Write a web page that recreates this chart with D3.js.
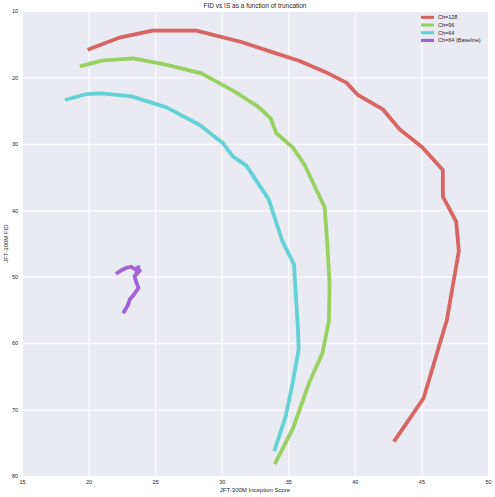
<!DOCTYPE html>
<html><head><meta charset="utf-8">
<script src="https://cdn.jsdelivr.net/npm/d3@7"></script>
<style>html,body{margin:0;padding:0;background:#fff;}svg{display:block;}</style>
</head><body>
<svg id="chart" width="495" height="497"></svg>
<script>
const seriesNames = ["Ch=128", "Ch=96", "Ch=64", "Ch=64 (Baseline)"];
const seriesColors = ["#D65F5A", "#93D05A", "#5DD0D3", "#9E5CD6"];
const ch128IS  = [19.93, 22.40, 24.80, 28.10, 31.48, 33.85, 35.86, 37.73, 39.36, 40.23, 42.10, 43.36, 45.06, 46.61, 46.61, 47.61, 47.81, 46.91, 45.16, 42.93];
const ch128FID = [15.83, 13.96, 12.96, 12.96, 14.67, 16.22, 17.53, 19.13, 20.79, 22.64, 24.80, 27.81, 30.52, 33.94, 37.95, 41.72, 46.13, 56.52, 68.30, 74.83];
const ch96IS   = [19.35, 20.98, 23.35, 25.73, 28.48, 30.98, 32.73, 33.68, 34.10, 35.35, 36.23, 37.73, 37.93, 38.10, 38.05, 37.56, 36.60, 35.35, 33.98];
const ch96FID  = [18.33, 17.48, 17.12, 18.03, 19.38, 22.14, 24.40, 26.16, 28.40, 30.57, 33.18, 39.55, 45.00, 51.00, 56.70, 61.53, 65.80, 72.83, 78.20];
const ch64IS   = [18.23, 19.85, 20.98, 23.23, 25.85, 28.35, 30.10, 30.85, 31.85, 33.53, 34.55, 35.43, 35.73, 35.78, 35.35, 34.80, 33.95];
const ch64FID  = [23.40, 22.50, 22.40, 22.85, 24.50, 27.16, 29.92, 31.93, 33.28, 38.35, 44.62, 48.13, 58.00, 60.93, 65.80, 71.07, 76.24];
const baseIS   = [22.05, 22.40, 22.85, 23.20, 23.50, 23.75, 23.60, 23.85, 23.45, 23.60, 23.75, 23.40, 23.10, 22.95, 22.60];
const baseFID  = [49.60, 49.10, 48.65, 48.50, 48.90, 48.55, 49.40, 49.10, 49.90, 50.90, 51.70, 52.70, 53.40, 54.30, 55.50];
const xTicks = [15, 20, 25, 30, 35, 40, 45, 50];
const yTicks = [10, 20, 30, 40, 50, 60, 70, 80];
const titleText = "FID vs IS as a function of truncation";
const xLabelText = "JFT-300M Inception Score";
const yLabelText = "JFT-300M FID";

const seriesIS = [ch128IS, ch96IS, ch64IS, baseIS];
const seriesFID = [ch128FID, ch96FID, ch64FID, baseFID];

const svg = d3.select("#chart");
const L = 22, R = 488, T = 11, B = 476;
const x = d3.scaleLinear().domain([15, 50]).range([L, R]);
const y = d3.scaleLinear().domain([10, 80]).range([T, B]);
const font = "'Liberation Sans', Arial, sans-serif";
const textColor = "#262626";

svg.append("rect").attr("x", L).attr("y", T).attr("width", R - L).attr("height", B - T).attr("fill", "#EAEAF2");

const gx = svg.append("g").attr("transform", `translate(0,${B})`)
  .call(d3.axisBottom(x).tickValues(xTicks).tickSize(-(B - T)).tickPadding(4).tickFormat(d3.format("d")));
const gy = svg.append("g").attr("transform", `translate(${L},0)`)
  .call(d3.axisLeft(y).tickValues(yTicks).tickSize(-(R - L)).tickPadding(4).tickFormat(d3.format("d")));
[gx, gy].forEach(g => {
  g.select(".domain").remove();
  g.selectAll(".tick line").attr("stroke", "#ffffff").attr("stroke-width", 1);
  g.selectAll(".tick text").attr("fill", textColor).style("font-family", font).style("font-size", "5.5px");
});

const line = d3.line().x(d => x(d[0])).y(d => y(d[1]));
seriesIS.forEach((xs, i) => {
  const pts = xs.map((v, j) => [v, seriesFID[i][j]]);
  svg.append("path").datum(pts).attr("d", line)
    .attr("fill", "none").attr("stroke", seriesColors[i]).attr("stroke-width", 3.8)
    .attr("stroke-linejoin", "round").attr("stroke-linecap", "butt").attr("opacity", 0.95);
});

svg.append("text").attr("x", (L + R) / 2).attr("y", 8).attr("text-anchor", "middle")
  .attr("fill", textColor).style("font-family", font).style("font-size", "6.5px").text(titleText);
svg.append("text").attr("x", (L + R) / 2).attr("y", 492).attr("text-anchor", "middle")
  .attr("fill", textColor).style("font-family", font).style("font-size", "6px").text(xLabelText);
svg.append("text").attr("transform", `translate(8,${(T + B) / 2}) rotate(-90)`).attr("text-anchor", "middle")
  .attr("fill", textColor).style("font-family", font).style("font-size", "6px").text(yLabelText);

const leg = svg.append("g");
seriesNames.forEach((name, i) => {
  const yy = 17.3 + i * 7.7;
  leg.append("line").attr("x1", 421).attr("x2", 434).attr("y1", yy).attr("y2", yy)
    .attr("stroke", seriesColors[i]).attr("stroke-width", 3);
  leg.append("text").attr("x", 438).attr("y", yy + 2).attr("fill", textColor)
    .style("font-family", font).style("font-size", "5.5px").text(name);
});
</script>
</body></html>
